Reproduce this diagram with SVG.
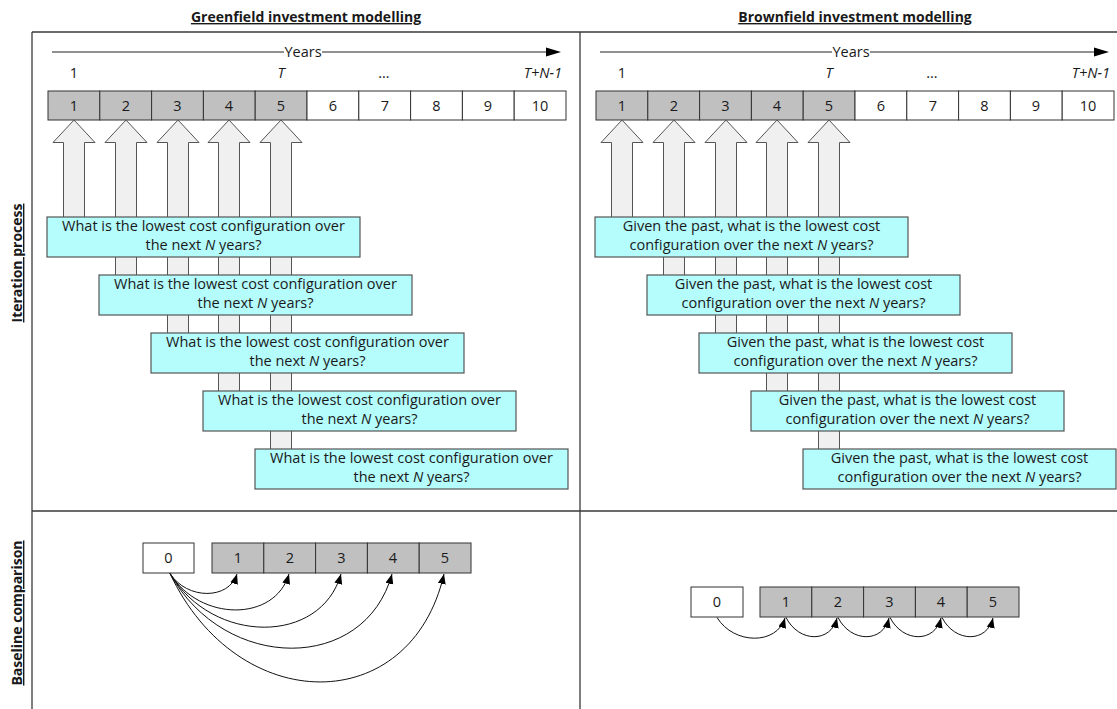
<svg xmlns="http://www.w3.org/2000/svg" width="1117" height="709" viewBox="0 0 1117 709">
  <style>
    .t { font-family: "Open Sans", "Noto Sans", "Liberation Sans", sans-serif; font-size: 14.5px; fill: #1a1a1a; }
    .hd { font-size: 14px; font-weight: bold; text-decoration: underline; }
    .mid { text-anchor: middle; }
    .end { text-anchor: end; }
    .it { font-style: italic; }
    .frame { stroke: #3a3a3a; stroke-width: 1.3; fill: none; }
    .axis { stroke: #222; stroke-width: 1; fill: none; }
    .gbox { fill: #c0c0c0; stroke: #333; stroke-width: 1; }
    .wbox { fill: #ffffff; stroke: #333; stroke-width: 1; }
    .q { fill: #b5fcfc; stroke: #555; stroke-width: 1.2; }
    .up { fill: #f0f0f0; stroke: #555; stroke-width: 1; }
    .link { fill: none; stroke: #111; stroke-width: 1; marker-end: url(#ah); }
  </style>
  <defs>
    <marker id="ah" markerUnits="userSpaceOnUse" markerWidth="11" markerHeight="9" refX="10" refY="4" orient="auto">
      <path d="M0,0 L10,4 L0,8 Z" fill="#000"/>
    </marker>
  </defs>

  <rect x="0" y="0" width="1117" height="709" fill="#fff"/>

  <!-- column and row headings -->
  <g id="headings">
    <text class="t hd mid" x="306" y="22">Greenfield investment modelling</text>
    <text class="t hd mid" x="855" y="22">Brownfield investment modelling</text>
    <text class="t hd mid" transform="translate(22,263) rotate(-90)">Iteration process</text>
    <text class="t hd mid" transform="translate(22,613) rotate(-90)">Baseline comparison</text>
  </g>

  <!-- grid frame -->
  <g id="frame">
    <path class="frame" d="M32,32 H1117 M32,32 V709 M580,32 V709 M32,511 H1117"/>
  </g>

  <!-- greenfield timeline -->
  <g id="green-timeline">
    <path class="axis" d="M52,52 H284 M322,52 H548"/>
    <polygon points="546,47.5 561,52 546,56.5" fill="#000"/>
    <text class="t mid" x="303" y="57">Years</text>
    <text class="t mid" x="74" y="78">1</text>
    <text class="t mid it" x="281" y="78">T</text>
    <text class="t mid" x="384" y="78">…</text>
    <text class="t end it" x="562" y="78">T+N-1</text>
    <rect class="gbox" x="48" y="91" width="51.8" height="29"/>
    <rect class="gbox" x="99.8" y="91" width="51.8" height="29"/>
    <rect class="gbox" x="151.6" y="91" width="51.8" height="29"/>
    <rect class="gbox" x="203.4" y="91" width="51.8" height="29"/>
    <rect class="gbox" x="255.2" y="91" width="51.8" height="29"/>
    <rect class="wbox" x="307" y="91" width="51.8" height="29"/>
    <rect class="wbox" x="358.8" y="91" width="51.8" height="29"/>
    <rect class="wbox" x="410.6" y="91" width="51.8" height="29"/>
    <rect class="wbox" x="462.4" y="91" width="51.8" height="29"/>
    <rect class="wbox" x="514.2" y="91" width="51.8" height="29"/>
    <text class="t mid" x="74" y="111">1</text>
    <text class="t mid" x="126" y="111">2</text>
    <text class="t mid" x="177.5" y="111">3</text>
    <text class="t mid" x="229" y="111">4</text>
    <text class="t mid" x="281" y="111">5</text>
    <text class="t mid" x="333" y="111">6</text>
    <text class="t mid" x="385" y="111">7</text>
    <text class="t mid" x="436.5" y="111">8</text>
    <text class="t mid" x="488" y="111">9</text>
    <text class="t mid" x="540" y="111">10</text>
  </g>

  <!-- brownfield timeline -->
  <g id="brown-timeline">
    <path class="axis" d="M600,52 H832 M870,52 H1096"/>
    <polygon points="1094,47.5 1109,52 1094,56.5" fill="#000"/>
    <text class="t mid" x="851" y="57">Years</text>
    <text class="t mid" x="622" y="78">1</text>
    <text class="t mid it" x="829" y="78">T</text>
    <text class="t mid" x="932" y="78">…</text>
    <text class="t end it" x="1110" y="78">T+N-1</text>
    <rect class="gbox" x="596" y="91" width="51.8" height="29"/>
    <rect class="gbox" x="647.8" y="91" width="51.8" height="29"/>
    <rect class="gbox" x="699.6" y="91" width="51.8" height="29"/>
    <rect class="gbox" x="751.4" y="91" width="51.8" height="29"/>
    <rect class="gbox" x="803.2" y="91" width="51.8" height="29"/>
    <rect class="wbox" x="855" y="91" width="51.8" height="29"/>
    <rect class="wbox" x="906.8" y="91" width="51.8" height="29"/>
    <rect class="wbox" x="958.6" y="91" width="51.8" height="29"/>
    <rect class="wbox" x="1010.4" y="91" width="51.8" height="29"/>
    <rect class="wbox" x="1062.2" y="91" width="51.8" height="29"/>
    <text class="t mid" x="622" y="111">1</text>
    <text class="t mid" x="674" y="111">2</text>
    <text class="t mid" x="725.5" y="111">3</text>
    <text class="t mid" x="777" y="111">4</text>
    <text class="t mid" x="829" y="111">5</text>
    <text class="t mid" x="881" y="111">6</text>
    <text class="t mid" x="933" y="111">7</text>
    <text class="t mid" x="984.5" y="111">8</text>
    <text class="t mid" x="1036" y="111">9</text>
    <text class="t mid" x="1088" y="111">10</text>
  </g>

  <!-- upward block arrows, drawn under the question boxes -->
  <g id="green-arrows">
    <path class="up" d="M74,120 L95,142.5 L84.5,142.5 L84.5,219 L63.5,219 L63.5,142.5 L53,142.5 Z"/>
    <path class="up" d="M126,120 L147,142.5 L136.5,142.5 L136.5,277 L115.5,277 L115.5,142.5 L105,142.5 Z"/>
    <path class="up" d="M178,120 L199,142.5 L188.5,142.5 L188.5,335 L167.5,335 L167.5,142.5 L157,142.5 Z"/>
    <path class="up" d="M229,120 L250,142.5 L239.5,142.5 L239.5,393 L218.5,393 L218.5,142.5 L208,142.5 Z"/>
    <path class="up" d="M281,120 L302,142.5 L291.5,142.5 L291.5,451 L270.5,451 L270.5,142.5 L260,142.5 Z"/>
  </g>
  <g id="brown-arrows">
    <path class="up" d="M622,120 L643,142.5 L632.5,142.5 L632.5,219 L611.5,219 L611.5,142.5 L601,142.5 Z"/>
    <path class="up" d="M674,120 L695,142.5 L684.5,142.5 L684.5,277 L663.5,277 L663.5,142.5 L653,142.5 Z"/>
    <path class="up" d="M726,120 L747,142.5 L736.5,142.5 L736.5,335 L715.5,335 L715.5,142.5 L705,142.5 Z"/>
    <path class="up" d="M777,120 L798,142.5 L787.5,142.5 L787.5,393 L766.5,393 L766.5,142.5 L756,142.5 Z"/>
    <path class="up" d="M829,120 L850,142.5 L839.5,142.5 L839.5,451 L818.5,451 L818.5,142.5 L808,142.5 Z"/>
  </g>

  <!-- greenfield questions -->
  <g id="green-q1">
    <rect class="q" x="47" y="217" width="313" height="40"/>
    <text class="t mid" x="203.5" y="231">What is the lowest cost configuration over</text>
    <text class="t mid" x="203.5" y="250">the next <tspan class="it">N</tspan> years?</text>
  </g>
  <g id="green-q2">
    <rect class="q" x="99" y="275" width="313" height="40"/>
    <text class="t mid" x="255.5" y="289">What is the lowest cost configuration over</text>
    <text class="t mid" x="255.5" y="308">the next <tspan class="it">N</tspan> years?</text>
  </g>
  <g id="green-q3">
    <rect class="q" x="151" y="333" width="313" height="40"/>
    <text class="t mid" x="307.5" y="347">What is the lowest cost configuration over</text>
    <text class="t mid" x="307.5" y="366">the next <tspan class="it">N</tspan> years?</text>
  </g>
  <g id="green-q4">
    <rect class="q" x="203" y="391" width="313" height="40"/>
    <text class="t mid" x="359.5" y="405">What is the lowest cost configuration over</text>
    <text class="t mid" x="359.5" y="424">the next <tspan class="it">N</tspan> years?</text>
  </g>
  <g id="green-q5">
    <rect class="q" x="255" y="449" width="313" height="40"/>
    <text class="t mid" x="411.5" y="463">What is the lowest cost configuration over</text>
    <text class="t mid" x="411.5" y="482">the next <tspan class="it">N</tspan> years?</text>
  </g>

  <!-- brownfield questions -->
  <g id="brown-q1">
    <rect class="q" x="595" y="217" width="313" height="40"/>
    <text class="t mid" x="751.5" y="231">Given the past, what is the lowest cost</text>
    <text class="t mid" x="751.5" y="250">configuration over the next <tspan class="it">N</tspan> years?</text>
  </g>
  <g id="brown-q2">
    <rect class="q" x="647" y="275" width="313" height="40"/>
    <text class="t mid" x="803.5" y="289">Given the past, what is the lowest cost</text>
    <text class="t mid" x="803.5" y="308">configuration over the next <tspan class="it">N</tspan> years?</text>
  </g>
  <g id="brown-q3">
    <rect class="q" x="699" y="333" width="313" height="40"/>
    <text class="t mid" x="855.5" y="347">Given the past, what is the lowest cost</text>
    <text class="t mid" x="855.5" y="366">configuration over the next <tspan class="it">N</tspan> years?</text>
  </g>
  <g id="brown-q4">
    <rect class="q" x="751" y="391" width="313" height="40"/>
    <text class="t mid" x="907.5" y="405">Given the past, what is the lowest cost</text>
    <text class="t mid" x="907.5" y="424">configuration over the next <tspan class="it">N</tspan> years?</text>
  </g>
  <g id="brown-q5">
    <rect class="q" x="803" y="449" width="313" height="40"/>
    <text class="t mid" x="959.5" y="463">Given the past, what is the lowest cost</text>
    <text class="t mid" x="959.5" y="482">configuration over the next <tspan class="it">N</tspan> years?</text>
  </g>

  <!-- greenfield baseline: every year compared against year 0 -->
  <g id="green-baseline">
    <rect class="wbox" x="143" y="543" width="51" height="30"/>
    <text class="t mid" x="168.5" y="563">0</text>
    <rect class="gbox" x="212" y="543" width="51.8" height="30"/>
    <rect class="gbox" x="263.8" y="543" width="51.8" height="30"/>
    <rect class="gbox" x="315.6" y="543" width="51.8" height="30"/>
    <rect class="gbox" x="367.4" y="543" width="51.8" height="30"/>
    <rect class="gbox" x="419.2" y="543" width="51.8" height="30"/>
    <text class="t mid" x="238" y="563">1</text>
    <text class="t mid" x="290" y="563">2</text>
    <text class="t mid" x="341.5" y="563">3</text>
    <text class="t mid" x="393" y="563">4</text>
    <text class="t mid" x="445" y="563">5</text>
  </g>

  <!-- brownfield baseline: each year compared against the previous one -->
  <g id="brown-baseline">
    <rect class="wbox" x="691" y="587" width="52" height="30"/>
    <text class="t mid" x="717" y="607">0</text>
    <rect class="gbox" x="760" y="587" width="51.8" height="30"/>
    <rect class="gbox" x="811.8" y="587" width="51.8" height="30"/>
    <rect class="gbox" x="863.6" y="587" width="51.8" height="30"/>
    <rect class="gbox" x="915.4" y="587" width="51.8" height="30"/>
    <rect class="gbox" x="967.2" y="587" width="51.8" height="30"/>
    <text class="t mid" x="786" y="607">1</text>
    <text class="t mid" x="838" y="607">2</text>
    <text class="t mid" x="889.5" y="607">3</text>
    <text class="t mid" x="941" y="607">4</text>
    <text class="t mid" x="993" y="607">5</text>
  </g>

  <!-- connectors -->
  <g id="connectors">
    <path class="link" d="M170,573.5 C187,600 229,600 237,574"/>
    <path class="link" d="M170,573.5 C200,622 275,622 289,574"/>
    <path class="link" d="M170,573.5 C213,645 321,645 341,574"/>
    <path class="link" d="M170,573.5 C225,673 365,673 392,574"/>
    <path class="link" d="M170,573.5 C238,718 411,718 444,574"/>

    <path class="link" d="M717,617.5 C734,645 777,645 785,618"/>
    <path class="link" d="M786,617.5 C799,643 831,643 837,618"/>
    <path class="link" d="M838,617.5 C851,643 883,643 889,618"/>
    <path class="link" d="M890,617.5 C903,643 935,643 941,618"/>
    <path class="link" d="M942,617.5 C955,643 987,643 993,618"/>
  </g>
</svg>
